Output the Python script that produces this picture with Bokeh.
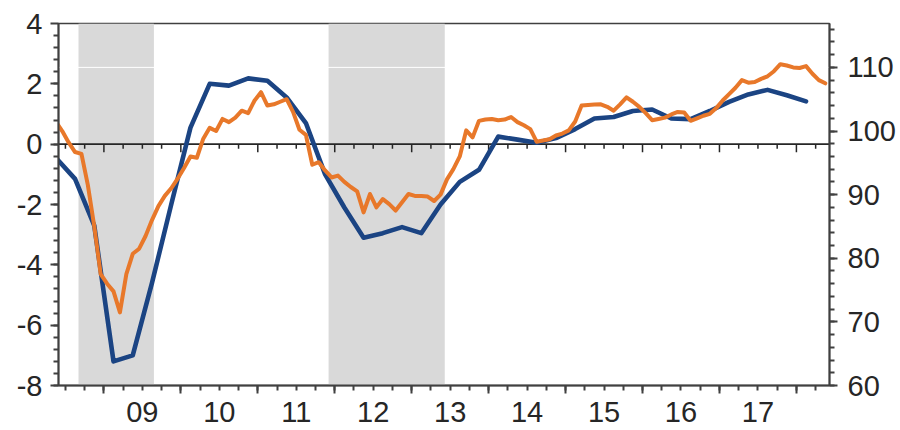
import numpy as np
import pandas as pd
from bokeh.plotting import figure
from bokeh.models import (Range1d, LinearAxis, FixedTicker, BoxAnnotation, Span,
                          CustomJSTickFormatter)
from bokeh.embed import file_html
from bokeh.resources import INLINE

# ---------------- data ----------------
# quarterly series (left axis), first quarter 2008Q2
gdp_yoy = [-0.45, -1.15, -2.7, -7.2, -7.0, -4.6, -2.0, 0.55, 2.0, 1.94,
           2.18, 2.1, 1.55, 0.7, -1.0, -2.1, -3.1, -2.95, -2.75, -2.95,
           -2.0, -1.25, -0.85, 0.25, 0.15, 0.05, 0.2, 0.5, 0.85, 0.9,
           1.1, 1.15, 0.85, 0.83, 1.1, 1.4, 1.65, 1.8, 1.62, 1.42]
gdp_start = "2008Q2"

# monthly series (right axis), first month May 2008
sentiment = [101.5, 100.0, 98.2, 96.7, 96.4, 91.5, 85.0, 77.5, 76.0, 74.8,
             71.5, 77.5, 80.7, 81.5, 83.5, 86.0, 88.2, 89.8, 91.0, 92.5,
             94.2, 96.0, 95.8, 98.8, 100.5, 100.0, 101.9, 101.4, 102.1, 103.2,
             102.8, 104.8, 106.1, 104.0, 104.2, 104.6, 105.0, 103.0, 100.2, 99.4,
             94.7, 95.1, 93.8, 92.7, 93.0, 92.0, 91.2, 90.5, 87.2, 90.1,
             88.0, 89.3, 88.5, 87.5, 88.8, 90.1, 89.8, 89.8, 89.7, 89.0,
             90.0, 92.4, 94.0, 96.0, 100.1, 99.0, 101.6, 101.8, 101.9, 101.7,
             101.8, 102.2, 101.4, 100.9, 100.3, 98.3, 98.5, 98.7, 99.3, 99.6,
             100.1, 101.5, 104.0, 104.1, 104.15, 104.2, 103.8, 103.2, 104.2, 105.3,
             104.6, 103.8, 102.8, 101.7, 101.9, 102.1, 102.6, 103.0, 102.9, 101.6,
             102.0, 102.4, 102.7, 103.6, 104.8, 105.8, 106.8, 108.0, 107.6, 107.7,
             108.2, 108.6, 109.4, 110.5, 110.3, 110.0, 109.9, 110.2, 109.0, 108.0,
             107.5]
sent_start = "2008-05-01"

# shaded periods (decimal years)
shade_start = [2008.67, 2011.92]
shade_end = [2009.65, 2013.43]

# axes
year_labels = ["09", "10", "11", "12", "13", "14", "15", "16", "17"]
year_bounds = [2009, 2010, 2011, 2012, 2013, 2014, 2015, 2016, 2017, 2018]
left_ticks = [-8, -6, -4, -2, 0, 2, 4]
left_labels = ["-8", "-6", "-4", "-2", "0", "2", "4"]
right_ticks = [60, 70, 80, 90, 100, 110]

# ---------------- derived x positions ----------------
qp = pd.period_range(gdp_start, periods=len(gdp_yoy), freq="Q")
gdp_x = [p.year + (p.quarter - 1) * 0.25 + 0.125 for p in qp]
md = pd.date_range(sent_start, periods=len(sentiment), freq="MS")
sent_x = [d.year + (d.month - 0.5) / 12 for d in md]

quarter_ticks = list(np.arange(2008.5, 2018.5, 0.25))
minor_q = [q for q in quarter_ticks if abs(q - round(q)) > 1e-6]
label_pos = [y + 0.5 for y in year_bounds[:-1]]

BLUE = "#1B4483"
ORANGE = "#E8782A"
AXC = "#404040"
TXT = "#262626"
FONT = "Liberation Sans"
FS = "29px"

p = figure(frame_width=771, frame_height=362,
           x_range=Range1d(2008.41, 2018.43), y_range=Range1d(-8, 4),
           output_backend="svg", toolbar_location=None,
           min_border_left=58, min_border_right=60, min_border_top=23,
           min_border_bottom=45)
p.extra_y_ranges = {"r": Range1d(60, 116.9)}
p.xgrid.visible = False
p.ygrid.visible = False
p.outline_line_color = AXC
p.outline_line_width = 1.5
p.background_fill_color = "white"
p.border_fill_color = "white"

# shading
for s, e in zip(shade_start, shade_end):
    p.add_layout(BoxAnnotation(left=s, right=e, fill_color="#D9D9D9", fill_alpha=1.0,
                               line_color=None, level="underlay"))
p.add_layout(Span(location=110, dimension="width", y_range_name="r",
                  line_color="white", line_width=1, level="underlay"))
p.add_layout(Span(location=0, dimension="width", line_color="#262626",
                  line_width=1.6, level="underlay"))

# ticks on the zero line
p.segment(x0=minor_q, y0=[0] * len(minor_q), x1=minor_q, y1=[-0.15] * len(minor_q),
          line_color="#262626", line_width=1.5)
p.segment(x0=year_bounds, y0=[0] * len(year_bounds), x1=year_bounds,
          y1=[-0.27] * len(year_bounds), line_color="#262626", line_width=1.5)

# lines
p.line(gdp_x, gdp_yoy, line_color=BLUE, line_width=4.6, line_join="round", line_cap="round")
p.line(sent_x, sentiment, y_range_name="r", line_color=ORANGE, line_width=4,
       line_join="round", line_cap="round")

# left axis
ya = p.yaxis[0]
ya.ticker = FixedTicker(ticks=left_ticks, minor_ticks=list(np.arange(-8, 4.001, 0.4)))
ya.formatter = CustomJSTickFormatter(args=dict(labels=left_labels),
                                     code="return labels[Math.round((tick + 8) / 2)]")
ya.major_tick_in = 0
ya.major_tick_out = 8
ya.minor_tick_in = 0
ya.minor_tick_out = 5
ya.axis_line_color = AXC
ya.axis_line_width = 2
ya.major_tick_line_color = AXC
ya.major_tick_line_width = 2
ya.minor_tick_line_color = AXC
ya.minor_tick_line_width = 2
ya.major_label_text_font = FONT
ya.major_label_text_font_size = FS
ya.major_label_text_color = TXT
ya.major_label_standoff = 8

# right axis
ra = LinearAxis(y_range_name="r",
                ticker=FixedTicker(ticks=right_ticks, minor_ticks=list(np.arange(60, 117, 2))))
ra.major_tick_in = 0
ra.major_tick_out = 8
ra.minor_tick_in = 0
ra.minor_tick_out = 5
ra.axis_line_color = AXC
ra.axis_line_width = 2
ra.major_tick_line_color = AXC
ra.major_tick_line_width = 2
ra.minor_tick_line_color = AXC
ra.minor_tick_line_width = 2
ra.major_label_text_font = FONT
ra.major_label_text_font_size = FS
ra.major_label_text_color = TXT
ra.major_label_standoff = 10
p.add_layout(ra, "right")

# bottom axis: ticks
xa = p.xaxis[0]
xa.ticker = FixedTicker(ticks=year_bounds, minor_ticks=quarter_ticks)
xa.formatter = CustomJSTickFormatter(code="return ''")
xa.major_label_text_font_size = "1px"
xa.major_label_standoff = 0
xa.major_tick_in = 0
xa.major_tick_out = 8
xa.minor_tick_in = 0
xa.minor_tick_out = 5
xa.axis_line_color = AXC
xa.axis_line_width = 2
xa.major_tick_line_color = AXC
xa.major_tick_line_width = 2
xa.minor_tick_line_color = AXC
xa.minor_tick_line_width = 2

# bottom axis: labels centred in each year
la = LinearAxis(ticker=FixedTicker(ticks=label_pos, minor_ticks=[]),
                formatter=CustomJSTickFormatter(args=dict(labels=year_labels),
                                                code="return labels[Math.floor(tick) - 2009]"))
la.axis_line_color = None
la.major_tick_line_color = None
la.minor_tick_line_color = None
la.major_tick_out = 0
la.major_tick_in = 0
la.major_label_standoff = 8
la.major_label_text_font = FONT
la.major_label_text_font_size = FS
la.major_label_text_color = TXT
p.add_layout(la, "below")

open("out.html", "w").write(file_html(p, INLINE))
